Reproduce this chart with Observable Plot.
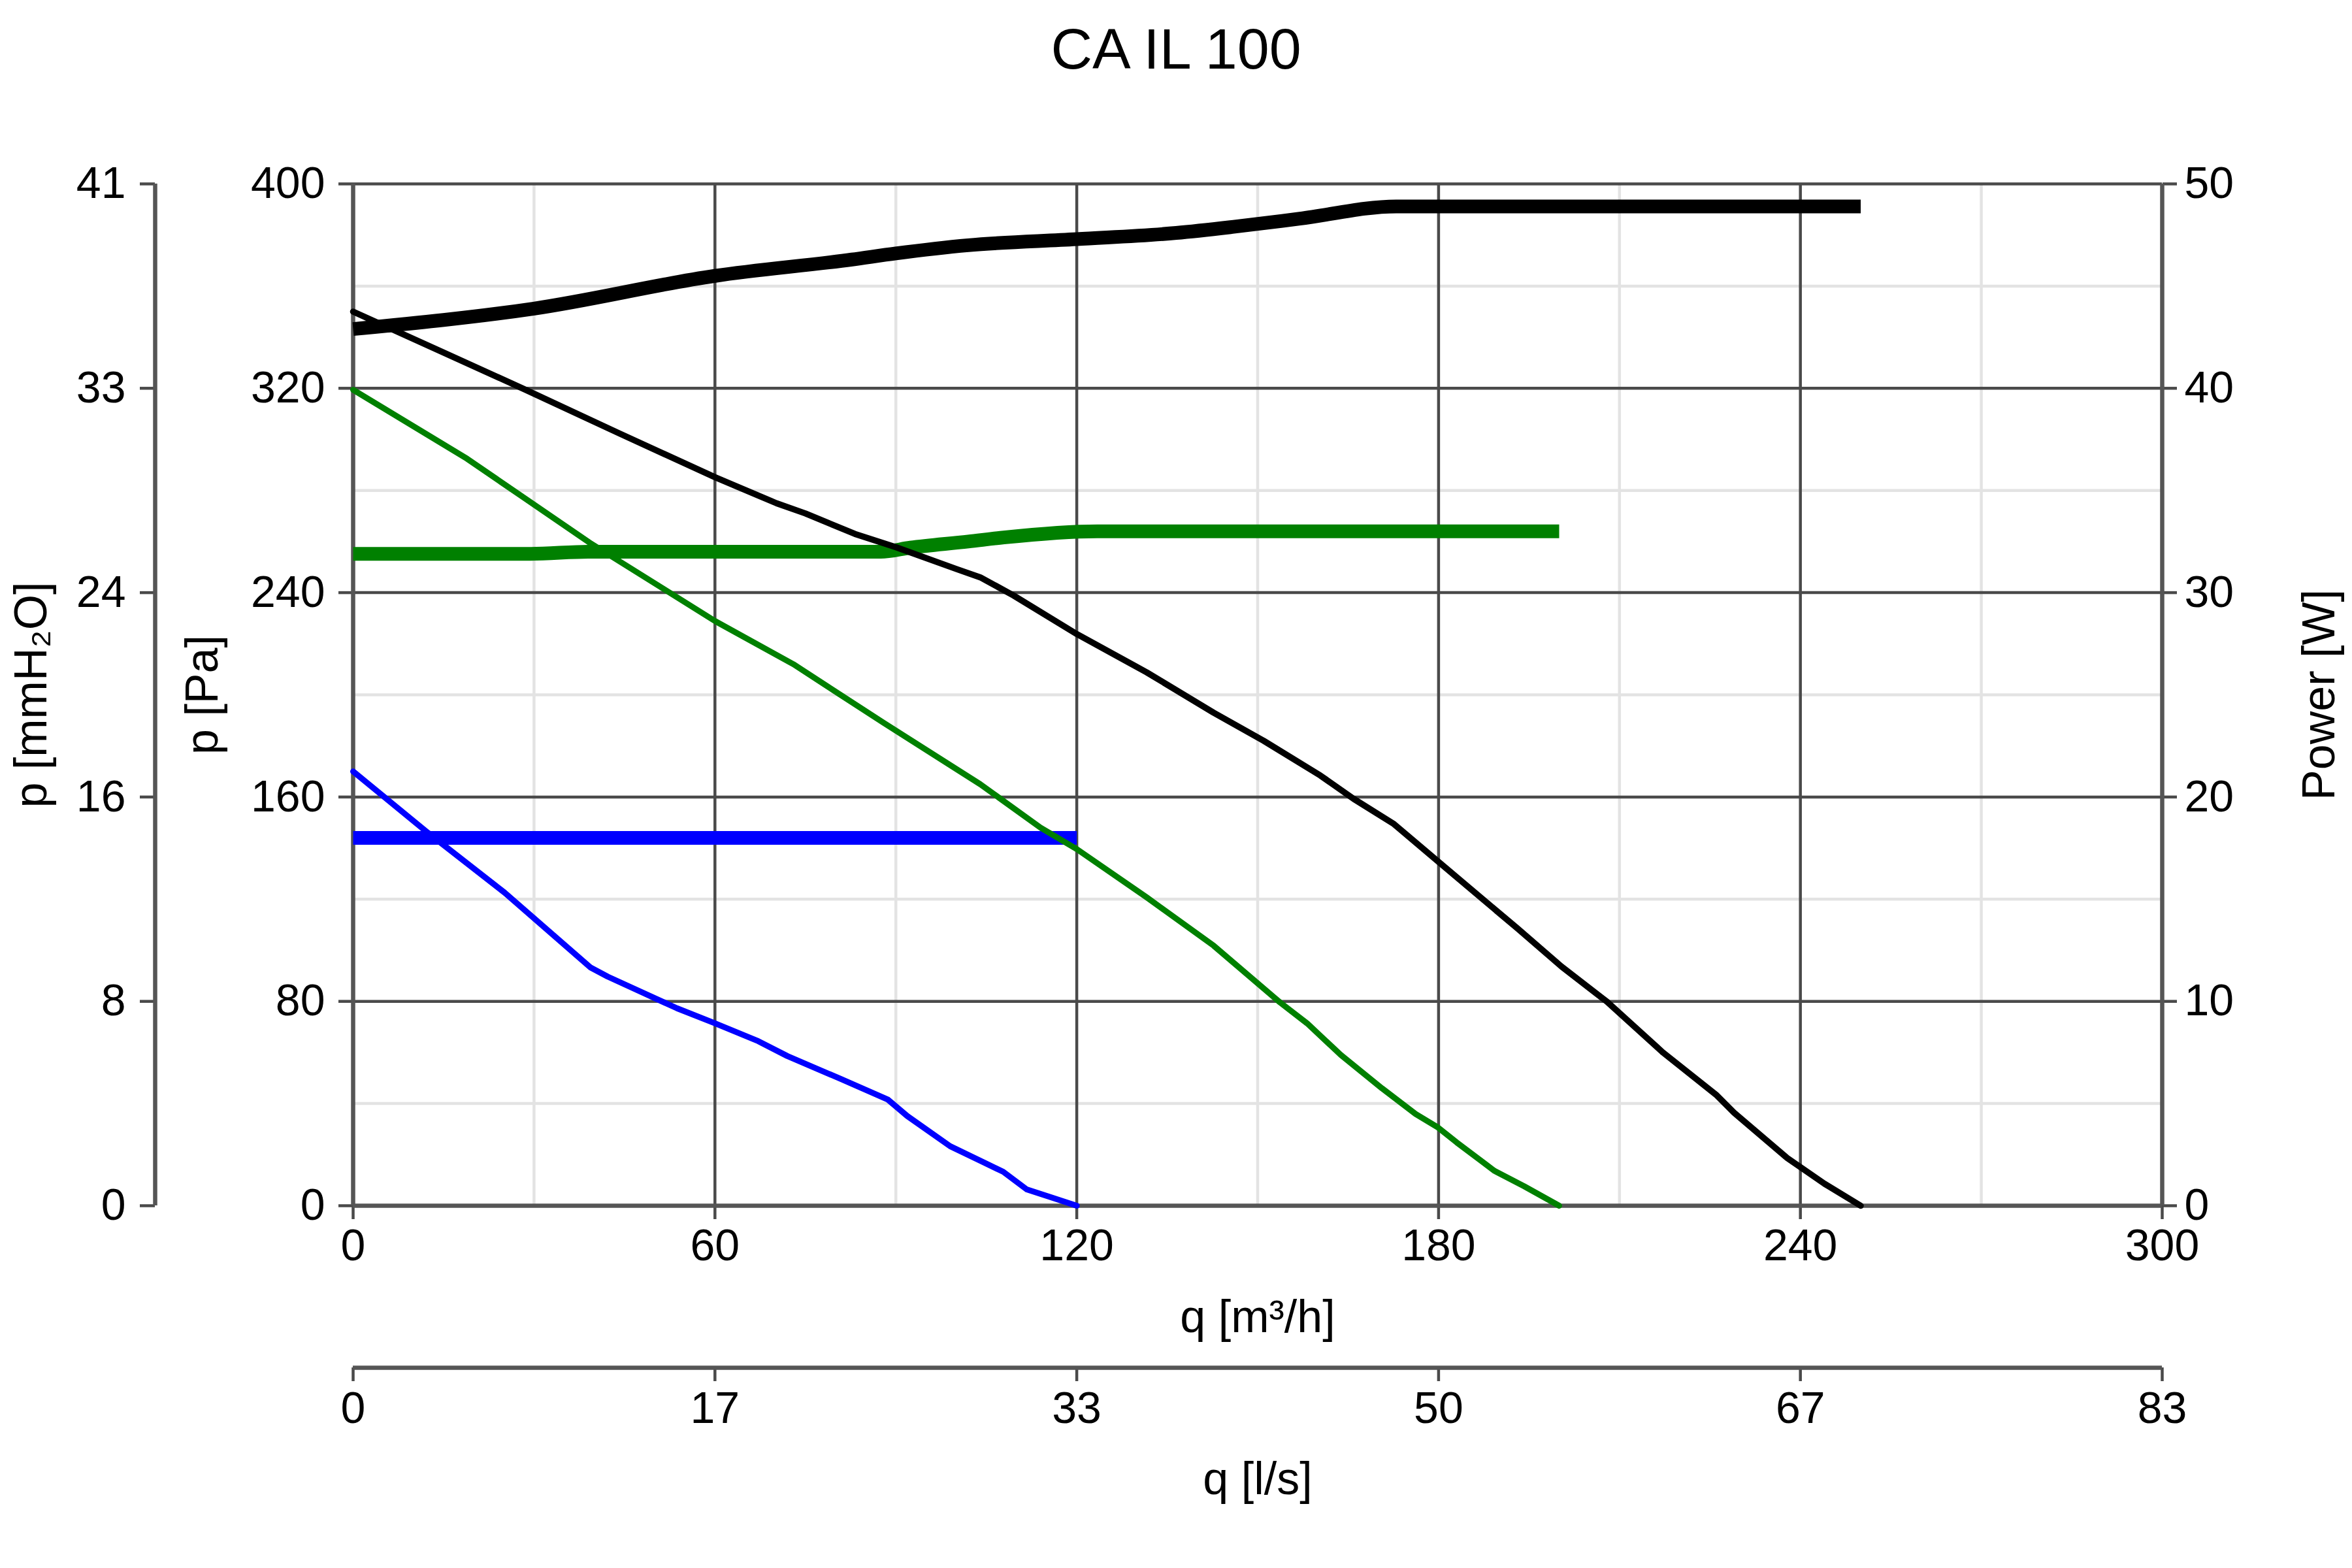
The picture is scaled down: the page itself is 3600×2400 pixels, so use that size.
<!DOCTYPE html>
<html>
<head>
<meta charset="utf-8">
<script src="https://cdn.jsdelivr.net/npm/d3@7"></script>
<script src="https://cdn.jsdelivr.net/npm/@observablehq/plot@0.6"></script>
<style>
  html, body { margin: 0; padding: 0; background: #fff; }
  #title {
    width: 3600px; height: 150px; line-height: 150px; text-align: center;
    font-family: "Liberation Sans", Arial, sans-serif; font-size: 88px; color: #000;
  }
  #chart svg { display: block; }
</style>
</head>
<body>
<div id="title"></div>
<div id="chart"></div>
<script>
// ---------- texts ----------
const chartTitle = "CA IL 100";
const xLabel = "q [m³/h]";
const x2Label = "q [l/s]";
const yLabel = "p [Pa]";
const y2Label = "p [mmH₂O]";
const powerLabel = "Power [W]";

// ---------- ticks ----------
const qTicks = [0, 60, 120, 180, 240, 300];
const qMinor = [30, 90, 150, 210, 270];
const paTicks = [0, 80, 160, 240, 320, 400];
const paMinor = [40, 120, 200, 280, 360];
const mmLabels = ["0", "8", "16", "24", "33", "41"];
const powerLabels = ["0", "10", "20", "30", "40", "50"];
const lsLabels = ["0", "17", "33", "50", "67", "83"];
const paMax = 400;
const powerMax = 50;

// ---------- pressure curves (q m³/h, p Pa) ----------
const blackQ = [0, 15, 28.6, 44, 60, 70.2, 75, 83.2, 90, 100.1, 104, 109.5, 120, 131.6, 142.7, 151, 160.4, 165.9, 172.6, 179.8, 193, 200.4, 207.9, 217.2, 226, 229, 237.8, 240, 244, 250];
const blackP = [350, 334, 319.4, 302.5, 285.2, 275, 271, 263, 257.8, 249.2, 246, 238.9, 223.8, 208.8, 193, 182, 168.4, 159.3, 149.4, 135, 108.7, 93.6, 79.9, 60, 43.5, 36.4, 18.7, 15.1, 8.6, 0];

const greenQ = [0, 18.9, 39.2, 60, 73, 88, 104, 114, 120, 131.6, 142.7, 153.7, 158.2, 163.8, 170.6, 176.2, 179.8, 183, 189.3, 194.2, 200];
const greenP = [319.4, 292.4, 259.6, 228.9, 212, 189, 165, 148, 139.6, 120.7, 101.8, 79.6, 71.4, 59, 46, 35.9, 30.8, 24.8, 13.6, 7.6, 0];

const blueQ = [0, 12.4, 25.1, 39.4, 42.2, 53.7, 59.9, 67.2, 72, 80.8, 88.7, 91.9, 99, 107.8, 111.7, 115.7, 120];
const blueP = [170, 146, 122.6, 93.2, 89.7, 77.3, 71.5, 64.4, 58.6, 49.7, 41.5, 35.1, 23.3, 13.3, 6.4, 3.3, 0];

// ---------- power curves (q m³/h, W) ----------
const blackPowQ = [0, 30, 60, 82.7, 90, 102, 120, 136.5, 146, 157, 173, 250];
const blackPowW = [42.9, 43.9, 45.5, 46.3, 46.6, 47.0, 47.3, 47.6, 47.9, 48.3, 48.9, 48.9];

const greenPowQ = [0, 29.5, 39, 87.5, 92.4, 102, 107.9, 123.4, 200];
const greenPowW = [31.9, 31.9, 32.0, 32.0, 32.2, 32.5, 32.7, 33.0, 33.0];

const bluePowQ = [0, 120];
const bluePowW = [18, 18];

// ---------- build ----------
const wToPa = paMax / powerMax;
const rows = (qs, vs, k = 1) => qs.map((q, i) => ({q, v: vs[i] * k}));

const colBlack = "#000000", colGreen = "#008000", colBlue = "#0000ff";
const gridMajor = "#4a4a4a", gridMinor = "#e3e3e3", axisCol = "#555555";
const font = '"Liberation Sans", Arial, sans-serif';

document.getElementById("title").textContent = chartTitle;

const chart = Plot.plot({
  width: 3600,
  height: 2250,
  marginTop: 131,
  marginBottom: 555,
  marginLeft: 540,
  marginRight: 291,
  x: {domain: [0, 300], axis: null},
  y: {domain: [0, paMax], axis: null},
  style: {fontFamily: font, fontSize: "68px", color: "#000", background: "#fff", overflow: "visible"},
  marks: [
    // grid
    Plot.ruleX(qMinor, {stroke: gridMinor, strokeWidth: 4.5}),
    Plot.ruleY(paMinor, {stroke: gridMinor, strokeWidth: 4.5}),
    Plot.ruleX(qTicks.slice(1, -1), {stroke: gridMajor, strokeWidth: 4.5}),
    Plot.ruleY(paTicks.slice(1), {stroke: gridMajor, strokeWidth: 4.5}),

    // axes ticks + labels
    Plot.axisX(qTicks, {anchor: "bottom", tickSize: 21, tickPadding: 14, stroke: gridMajor, strokeWidth: 4.5, fill: "#000", label: null}),
    Plot.axisX(qTicks, {anchor: "bottom", dy: 248, tickSize: 21, tickPadding: 15, stroke: gridMajor, strokeWidth: 4.5, fill: "#000", label: null,
      tickFormat: d => lsLabels[qTicks.indexOf(d)]}),
    Plot.axisY(paTicks, {anchor: "left", tickSize: 22, tickPadding: 21, stroke: gridMajor, strokeWidth: 4.5, fill: "#000", label: null}),
    Plot.axisY(paTicks, {anchor: "left", dx: -303, tickSize: 23, tickPadding: 22, stroke: gridMajor, strokeWidth: 4.5, fill: "#000", label: null,
      tickFormat: d => mmLabels[paTicks.indexOf(d)]}),
    Plot.axisY(paTicks, {anchor: "right", tickSize: 22, tickPadding: 12, stroke: gridMajor, strokeWidth: 4.5, fill: "#000", label: null,
      tickFormat: d => powerLabels[paTicks.indexOf(d)]}),

    // axis lines
    Plot.ruleX([0, 300], {stroke: axisCol, strokeWidth: 6.5}),
    Plot.ruleY([0], {stroke: axisCol, strokeWidth: 6.5}),
    Plot.ruleX([0], {dx: -303, stroke: axisCol, strokeWidth: 6.5}),
    Plot.ruleY([0], {dy: 248, stroke: axisCol, strokeWidth: 6.5}),

    // power curves
    Plot.line(rows(bluePowQ, bluePowW, wToPa), {x: "q", y: "v", stroke: colBlue, strokeWidth: 21, strokeLinecap: "butt", strokeLinejoin: "round", curve: "monotone-x"}),
    Plot.line(rows(greenPowQ, greenPowW, wToPa), {x: "q", y: "v", stroke: colGreen, strokeWidth: 21, strokeLinecap: "butt", strokeLinejoin: "round", curve: "monotone-x"}),
    Plot.line(rows(blackPowQ, blackPowW, wToPa), {x: "q", y: "v", stroke: colBlack, strokeWidth: 21, strokeLinecap: "butt", strokeLinejoin: "round", curve: "monotone-x"}),

    // pressure curves
    Plot.line(rows(blueQ, blueP), {x: "q", y: "v", stroke: colBlue, strokeWidth: 9}),
    Plot.line(rows(greenQ, greenP), {x: "q", y: "v", stroke: colGreen, strokeWidth: 9}),
    Plot.line(rows(blackQ, blackP), {x: "q", y: "v", stroke: colBlack, strokeWidth: 9.5}),

    // axis titles
    Plot.text([xLabel], {text: d => d, frameAnchor: "bottom", dy: 171, fontSize: 70, textAnchor: "middle", lineAnchor: "middle", fill: "#000"}),
    Plot.text([x2Label], {text: d => d, frameAnchor: "bottom", dy: 419, fontSize: 70, textAnchor: "middle", lineAnchor: "middle", fill: "#000"}),
    Plot.text([yLabel], {text: d => d, frameAnchor: "left", dx: -230, rotate: -90, fontSize: 70, textAnchor: "middle", lineAnchor: "middle", fill: "#000"}),
    Plot.text([y2Label], {text: d => d, frameAnchor: "left", dx: -492, rotate: -90, fontSize: 70, textAnchor: "middle", lineAnchor: "middle", fill: "#000"}),
    Plot.text([powerLabel], {text: d => d, frameAnchor: "right", dx: 241, rotate: -90, fontSize: 70, textAnchor: "middle", lineAnchor: "middle", fill: "#000"})
  ]
});

document.getElementById("chart").appendChild(chart);
</script>
</body>
</html>
